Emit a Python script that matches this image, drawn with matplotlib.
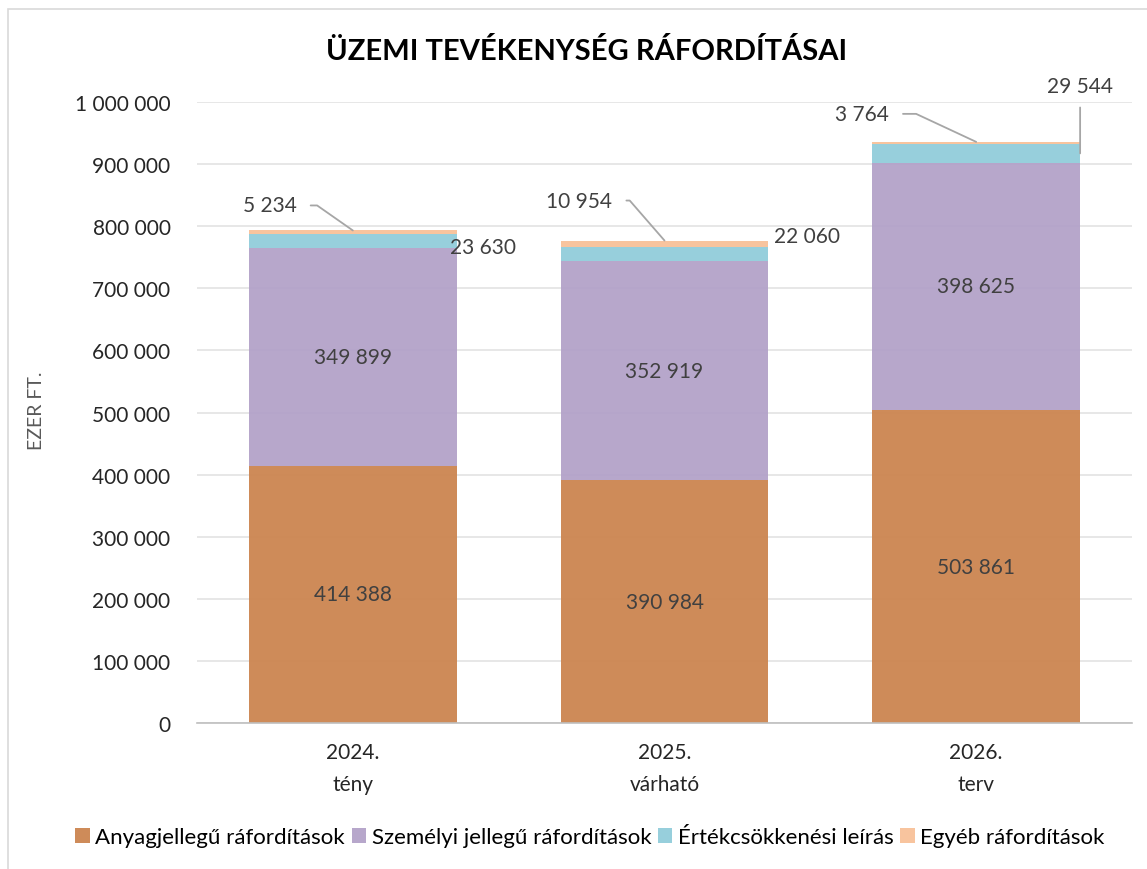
import numpy as np
import matplotlib.pyplot as plt
from matplotlib.patches import Rectangle

plt.rcParams['font.family'] = ['Lato', 'DejaVu Sans']

years = ['2024.\ntény', '2025.\nvárható', '2026.\nterv']
series = ['Anyagjellegű ráfordítások', 'Személyi jellegű ráfordítások',
          'Értékcsökkenési leírás', 'Egyéb ráfordítások']
anyag = [414388, 390984, 503861]
szemelyi = [349899, 352919, 398625]
ertekcs = [23630, 22060, 29544]
egyeb = [5234, 10954, 3764]
colors = ['#CC8550', '#B3A2C9', '#92CDDA', '#F8C199']

def fmt(v):
    return '{:,}'.format(int(v)).replace(',', ' ')

W, H = 1147, 870
fig = plt.figure(figsize=(W / 100, H / 100), dpi=100)
# chart frame
fig.patches.append(Rectangle((8 / W, -0.01), 1.2, (H - 10) / H + 0.01,
                             transform=fig.transFigure, fill=False,
                             edgecolor='#D9D9D9', linewidth=1.2))
ax = fig.add_axes([197 / W, 146 / H, (1132 - 197) / W, (724 - 103) / H])

x = np.arange(len(years))
bw = 0.667
data = [anyag, szemelyi, ertekcs, egyeb]
bottom = np.zeros(len(years))
for vals, name, c in zip(data, series, colors):
    ax.bar(x, vals, bw, bottom=bottom, color=c, alpha=0.95, label=name, zorder=2)
    bottom += np.array(vals)

fs = 15
# labels inside the two big segments
for i in range(len(years)):
    ax.text(x[i], anyag[i] / 2, fmt(anyag[i]), ha='center', va='center',
            fontsize=fs, color='#404040', zorder=3)
    ax.text(x[i], anyag[i] + szemelyi[i] / 2, fmt(szemelyi[i]), ha='center',
            va='center', fontsize=fs, color='#404040', zorder=3)

totals = bottom
lc = '#A6A6A6'
# Egyéb labels with leader lines to the bar top
egyeb_off = [(-83, 25), (-85, 40), (-114, 28)]
egyeb_ang = [-35, -49, -25]
for i in range(len(years)):
    ax.annotate(fmt(egyeb[i]), xy=(x[i], totals[i]), xytext=egyeb_off[i],
                textcoords='offset pixels', ha='center', va='center',
                fontsize=fs, color='#404040',
                arrowprops=dict(arrowstyle='-', color=lc, lw=1.3,
                                relpos=(1, 0.5), shrinkA=8, shrinkB=0,
                                connectionstyle='angle,angleA=0,angleB=%d,rad=0' % egyeb_ang[i]))

# Értékcsökkenés labels to the right of the bars
ert_mid = [anyag[i] + szemelyi[i] + ertekcs[i] / 2 for i in range(3)]
ax.annotate(fmt(ertekcs[0]), xy=(x[0] + bw / 2, ert_mid[0]), xytext=(-7, -6),
            textcoords='offset pixels', ha='left', va='center', fontsize=fs,
            color='#404040')
ax.annotate(fmt(ertekcs[1]), xy=(x[1] + bw / 2, ert_mid[1]), xytext=(6, 18),
            textcoords='offset pixels', ha='left', va='center', fontsize=fs,
            color='#404040')
ax.annotate(fmt(ertekcs[2]), xy=(x[2] + bw / 2, ert_mid[2]), xytext=(0, 67),
            textcoords='offset pixels', ha='center', va='center', fontsize=fs,
            color='#404040',
            arrowprops=dict(arrowstyle='-', color=lc, lw=1.3, shrinkA=6, shrinkB=0))

ax.set_xlim(-0.5, 2.5)
ax.set_ylim(0, 1000000)
yt = np.arange(0, 1000001, 100000)
ax.set_yticks(yt)
ax.set_yticklabels([fmt(v) for v in yt], fontsize=fs, color='#262626')
ax.set_xticks(x)
ax.set_xticklabels(years, fontsize=fs, color='#262626', linespacing=1.75)
ax.tick_params(length=0, pad=19)
ax.tick_params(axis='x', pad=14)
ax.grid(axis='y', color='#E3E3E3', linewidth=1.2, zorder=0)
ax.set_axisbelow(True)
for s in ['top', 'right', 'left']:
    ax.spines[s].set_visible(False)
ax.spines['bottom'].set_color('#BFBFBF')
ax.spines['bottom'].set_linewidth(1.2)

ax.set_ylabel('EZER FT.', fontsize=14, color='#595959')
ax.yaxis.set_label_coords(-0.163, 0.505)

fig.text(587 / W, 1 - 51 / H, 'ÜZEMI TEVÉKENYSÉG RÁFORDÍTÁSAI', ha='center',
         va='center', fontsize=21, fontweight='bold', color='#000000')

fig.legend(loc='center', bbox_to_anchor=(590 / W, 1 - 838 / H), ncol=4,
           frameon=False, fontsize=16, handlelength=0.65, handleheight=0.65,
           handletextpad=0.25, columnspacing=0.3, labelcolor='#000000')

fig.savefig('out.png', dpi=100)
